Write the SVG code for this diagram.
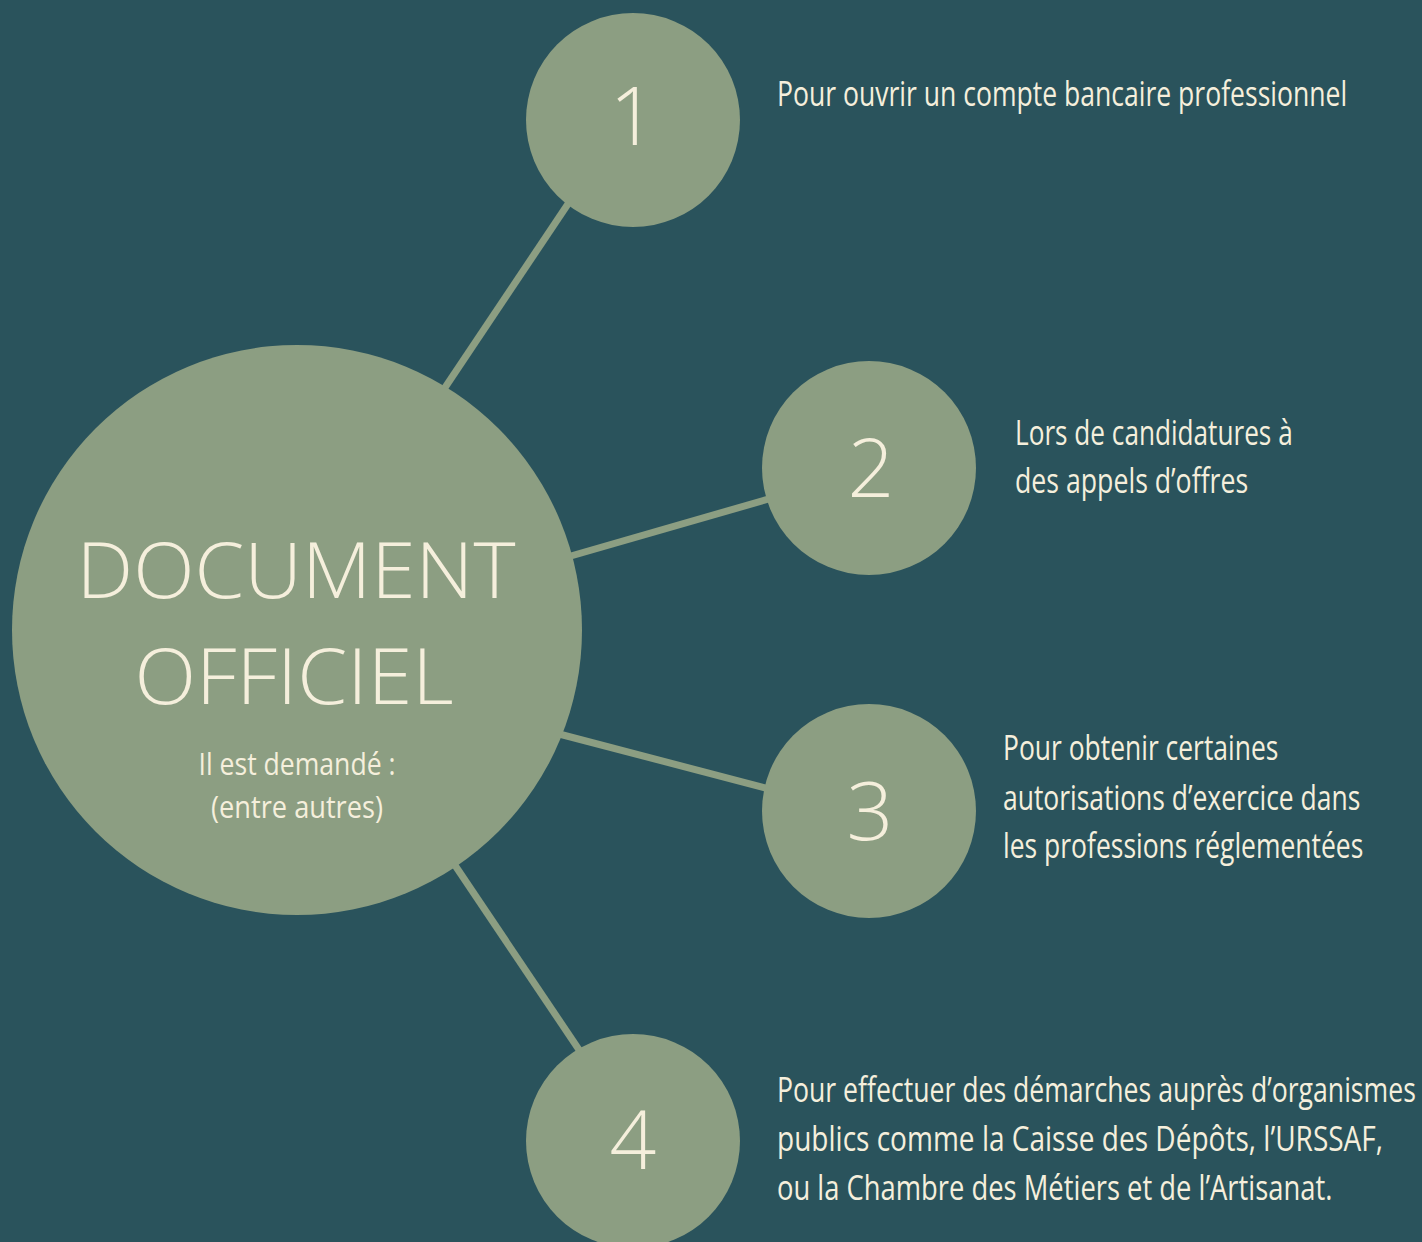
<svg xmlns="http://www.w3.org/2000/svg" width="1422" height="1242" viewBox="0 0 1422 1242">
<style>
.bg{fill:#2a535c}
.node{fill:#8c9e82}
.conn{stroke:#8c9e82;stroke-width:7;stroke-linecap:butt;fill:none}
.num{font-family:"Open Sans","Liberation Sans",sans-serif;font-weight:300;font-size:82px;fill:#f5efdc;text-anchor:middle}
.title{font-family:"Open Sans","Liberation Sans",sans-serif;font-weight:350;font-size:78px;fill:#f5efdc;text-anchor:middle}
.sub{font-family:"Open Sans","Liberation Sans",sans-serif;font-weight:400;font-size:31px;fill:#f5efdc;text-anchor:middle}
.lbl{font-family:"Open Sans","Liberation Sans",sans-serif;font-weight:400;font-size:34px;fill:#f5efdc}
</style>
<rect class="bg" x="0" y="0" width="1422" height="1242"/>
<g id="connectors">
<line class="conn" x1="430" y1="410" x2="580" y2="186"/>
<line class="conn" x1="550" y1="562" x2="800" y2="490"/>
<line class="conn" x1="540" y1="729" x2="800" y2="797"/>
<line class="conn" x1="440" y1="843" x2="600" y2="1081"/>
</g>
<g id="node-center">
<circle class="node" cx="297" cy="630" r="285"/>
<text class="title" x="296" y="598" textLength="439" lengthAdjust="spacingAndGlyphs">DOCUMENT</text>
<text class="title" x="294" y="704" textLength="319" lengthAdjust="spacingAndGlyphs">OFFICIEL</text>
<text class="sub" x="297" y="775" textLength="197" lengthAdjust="spacingAndGlyphs">Il est demandé :</text>
<text class="sub" x="297" y="818" textLength="172" lengthAdjust="spacingAndGlyphs">(entre autres)</text>
</g>
<g id="node-1">
<circle class="node" cx="633" cy="120" r="107"/>
<text class="num" x="633" y="145">1</text>
<text class="lbl" transform="translate(777 106) scale(0.78 1)" textLength="731" lengthAdjust="spacingAndGlyphs">Pour ouvrir un compte bancaire professionnel</text>
</g>
<g id="node-2">
<circle class="node" cx="869" cy="468" r="107"/>
<text class="num" x="871" y="497">2</text>
<text class="lbl" transform="translate(1015 445) scale(0.78 1)" textLength="356" lengthAdjust="spacingAndGlyphs">Lors de candidatures à</text>
<text class="lbl" transform="translate(1015 493) scale(0.78 1)" textLength="299" lengthAdjust="spacingAndGlyphs">des appels d’offres</text>
</g>
<g id="node-3">
<circle class="node" cx="869" cy="811" r="107"/>
<text class="num" x="870" y="840">3</text>
<text class="lbl" transform="translate(1003 760) scale(0.78 1)" textLength="353" lengthAdjust="spacingAndGlyphs">Pour obtenir certaines</text>
<text class="lbl" transform="translate(1003 810) scale(0.78 1)" textLength="458" lengthAdjust="spacingAndGlyphs">autorisations d’exercice dans</text>
<text class="lbl" transform="translate(1003 858) scale(0.78 1)" textLength="462" lengthAdjust="spacingAndGlyphs">les professions réglementées</text>
</g>
<g id="node-4">
<circle class="node" cx="633" cy="1141" r="107"/>
<text class="num" x="633" y="1169">4</text>
<text class="lbl" transform="translate(777 1102) scale(0.78 1)" textLength="819" lengthAdjust="spacingAndGlyphs">Pour effectuer des démarches auprès d’organismes</text>
<text class="lbl" transform="translate(777 1151) scale(0.78 1)" textLength="777" lengthAdjust="spacingAndGlyphs">publics comme la Caisse des Dépôts, l’URSSAF,</text>
<text class="lbl" transform="translate(777 1200) scale(0.78 1)" textLength="712" lengthAdjust="spacingAndGlyphs">ou la Chambre des Métiers et de l’Artisanat.</text>
</g>
</svg>
